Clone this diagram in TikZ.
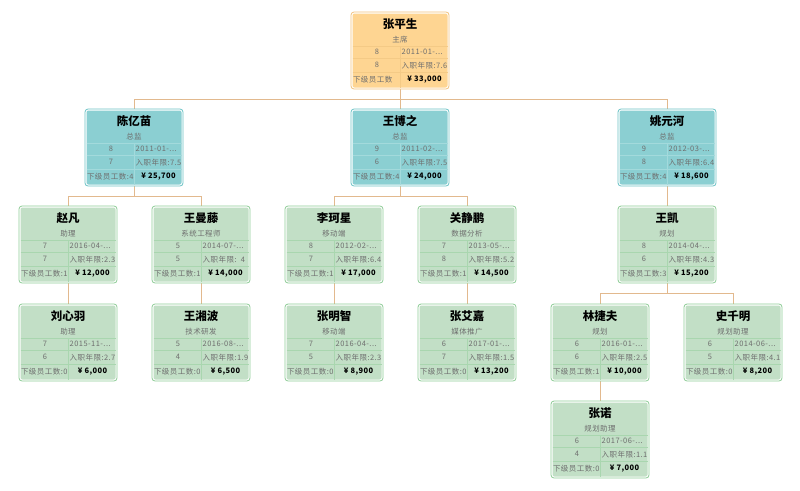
\documentclass[tikz,border=0pt]{standalone}
\usepackage{fontspec}
\setmainfont{Noto Sans CJK SC}
\newfontfamily\cellfont{Noto Sans CJK SC}[LetterSpace=6]
\usetikzlibrary{backgrounds}
\definecolor{rootfill}{HTML}{FED592}
\definecolor{rootbd}{HTML}{F2C27C}
\definecolor{rootln}{HTML}{F4CA86}
\definecolor{tealfill}{HTML}{8BCFD2}
\definecolor{tealbd}{HTML}{6CC3C6}
\definecolor{tealln}{HTML}{A3DADC}
\definecolor{greenfill}{HTML}{C2DFC6}
\definecolor{greenbd}{HTML}{8ECC97}
\definecolor{greenln}{HTML}{A9D6AF}
\definecolor{linkcol}{HTML}{E2B98E}
\definecolor{celltxt}{HTML}{6E6E6E}
\tikzset{
  cardbox/.style={rectangle, minimum width=98pt, minimum height=77pt, inner sep=0pt, outer sep=0pt,
    fill=white, line width=0.8pt, rounded corners=3pt, anchor=north west},
  nametext/.style={inner sep=0pt, font=\fontsize{11.5}{12}\selectfont\bfseries, text=black},
  titletext/.style={inner sep=0pt, font=\fontsize{7.5}{8}\cellfont, text=celltxt},
  celltext/.style={inner sep=0pt, font=\fontsize{7.5}{8}\cellfont, text=celltxt},
  moneytext/.style={inner sep=0pt, font=\fontsize{7.5}{8}\cellfont\bfseries, text=black},
  link/.style={draw=linkcol, line width=0.8pt},
}
\newcommand\orgcard[9]{%
  \node[cardbox, draw=#4bd] (#1) at (#2,#3) {};
  \fill[#4fill, rounded corners=2pt] ([shift={(1.5,1.5)}]#1.north west) rectangle ([shift={(-1.5,-1.5)}]#1.south east);
  \draw[#4ln, line width=0.6pt] ([shift={(1.5,34)}]#1.north west) -- ([shift={(96.5,34)}]#1.north west);
  \draw[#4ln, line width=0.6pt] ([shift={(1.5,46.6)}]#1.north west) -- ([shift={(96.5,46.6)}]#1.north west);
  \draw[#4ln, line width=0.6pt] ([shift={(1.5,60)}]#1.north west) -- ([shift={(96.5,60)}]#1.north west);
  \draw[#4ln, line width=0.6pt] ([shift={(49,34)}]#1.north west) -- ([shift={(49,75.5)}]#1.north west);
  \node[nametext] (#1-n) at ([shift={(49,12)}]#1.north west) {#5};
  \node[titletext] (#1-t) at ([shift={(49,28)}]#1.north west) {#6};
  \node[celltext] (#1-a) at ([shift={(26,40.3)}]#1.north west) {#7};
  \node[celltext, anchor=west] (#1-b) at ([shift={(50.5,40.3)}]#1.north west) {#8};
  \node[celltext] (#1-c) at ([shift={(26,53.3)}]#1.north west) {#9};
}
\newcommand\orgcardb[4]{%
  \node[celltext, anchor=west] (#1-d) at ([shift={(50.5,53.3)}]#1.north west) {#2};
  \node[celltext, anchor=west] (#1-e) at ([shift={(1.8,68)}]#1.north west) {#3};
  \node[moneytext] (#1-f) at ([shift={(73.5,68)}]#1.north west) {#4};
}
\begin{document}
\begin{tikzpicture}[x=1pt,y=-1pt]
\useasboundingbox (0,0) rectangle (800,490);
% level 0
\orgcard{root}{351}{12}{root}{张平生}{主席}{8}{2011-01-...}{8}
\orgcardb{root}{入职年限:7.6}{下级员工数}{¥ 33,000}
% level 1
\orgcard{chen}{85}{109}{teal}{陈亿苗}{总监}{8}{2011-01-...}{7}
\orgcardb{chen}{入职年限:7.5}{下级员工数:4}{¥ 25,700}
\orgcard{wang}{351}{109}{teal}{王博之}{总监}{9}{2011-02-...}{6}
\orgcardb{wang}{入职年限:7.5}{下级员工数:4}{¥ 24,000}
\orgcard{yao}{618}{109}{teal}{姚元河}{总监}{9}{2012-03-...}{8}
\orgcardb{yao}{入职年限:6.4}{下级员工数:4}{¥ 18,600}
% level 2
\orgcard{zhao}{19}{206}{green}{赵凡}{助理}{7}{2016-04-...}{7}
\orgcardb{zhao}{入职年限:2.3}{下级员工数:1}{¥ 12,000}
\orgcard{wm}{152}{206}{green}{王曼藤}{系统工程师}{5}{2014-07-...}{5}
\orgcardb{wm}{入职年限:\ \ 4}{下级员工数:1}{¥ 14,000}
\orgcard{li}{285}{206}{green}{李珂星}{移动端}{8}{2012-02-...}{7}
\orgcardb{li}{入职年限:6.4}{下级员工数:1}{¥ 17,000}
\orgcard{guan}{418}{206}{green}{关静鹏}{数据分析}{7}{2013-05-...}{8}
\orgcardb{guan}{入职年限:5.2}{下级员工数:1}{¥ 14,500}
\orgcard{wk}{618}{206}{green}{王凯}{规划}{8}{2014-04-...}{6}
\orgcardb{wk}{入职年限:4.3}{下级员工数:3}{¥ 15,200}
% level 3
\orgcard{liu}{19}{304}{green}{刘心羽}{助理}{7}{2015-11-...}{6}
\orgcardb{liu}{入职年限:2.7}{下级员工数:0}{¥ 6,000}
\orgcard{wx}{152}{304}{green}{王湘波}{技术研发}{5}{2016-08-...}{4}
\orgcardb{wx}{入职年限:1.9}{下级员工数:0}{¥ 6,500}
\orgcard{zm}{285}{304}{green}{张明智}{移动端}{7}{2016-04-...}{5}
\orgcardb{zm}{入职年限:2.3}{下级员工数:0}{¥ 8,900}
\orgcard{zaj}{418}{304}{green}{张艾嘉}{媒体推广}{6}{2017-01-...}{7}
\orgcardb{zaj}{入职年限:1.5}{下级员工数:0}{¥ 13,200}
\orgcard{lin}{551}{304}{green}{林捷夫}{规划}{6}{2016-01-...}{6}
\orgcardb{lin}{入职年限:2.5}{下级员工数:1}{¥ 10,000}
\orgcard{shi}{684}{304}{green}{史千明}{规划助理}{6}{2014-06-...}{5}
\orgcardb{shi}{入职年限:4.1}{下级员工数:0}{¥ 8,200}
% level 4
\orgcard{zn}{551}{401}{green}{张诺}{规划助理}{6}{2017-06-...}{4}
\orgcardb{zn}{入职年限:1.1}{下级员工数:0}{¥ 7,000}
\begin{scope}[on background layer]
  \fill[white] (0,0) rectangle (800,490);
  \draw[link] (root.south) -- ++(0,10.5) -| (chen.north);
  \draw[link] (root.south) -- ++(0,10.5) -| (yao.north);
  \draw[link] (root.south) -- (wang.north);
  \draw[link] (chen.south) -- ++(0,10) -| (zhao.north);
  \draw[link] (chen.south) -- ++(0,10) -| (wm.north);
  \draw[link] (wang.south) -- ++(0,10) -| (li.north);
  \draw[link] (wang.south) -- ++(0,10) -| (guan.north);
  \draw[link] (yao.south) -- (wk.north);
  \draw[link] (zhao.south) -- (liu.north);
  \draw[link] (wm.south) -- (wx.north);
  \draw[link] (li.south) -- (zm.north);
  \draw[link] (guan.south) -- (zaj.north);
  \draw[link] (wk.south) -- ++(0,10.5) -| (lin.north);
  \draw[link] (wk.south) -- ++(0,10.5) -| (shi.north);
  \draw[link] (lin.south) -- (zn.north);
\end{scope}
\end{tikzpicture}
\end{document}
